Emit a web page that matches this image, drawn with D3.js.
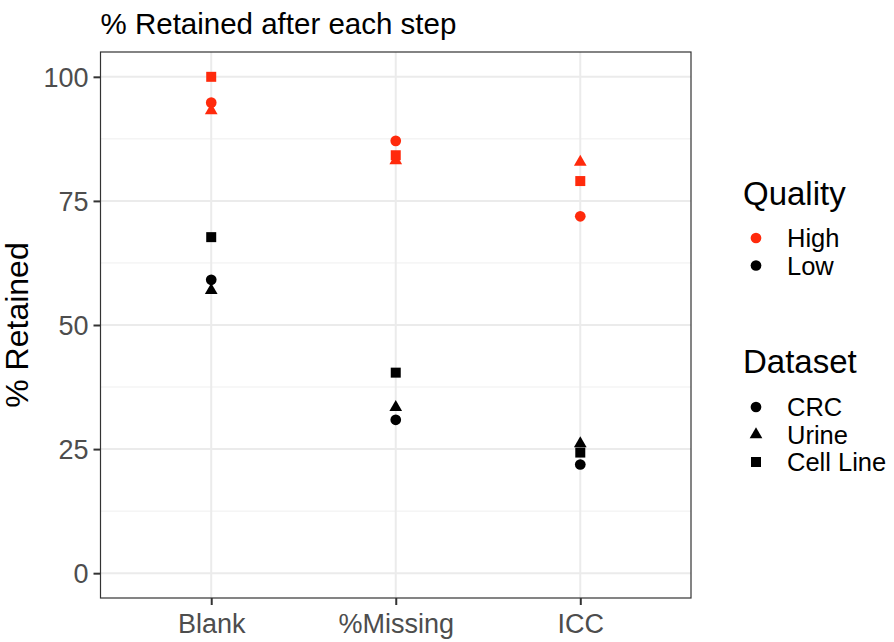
<!DOCTYPE html>
<html>
<head>
  <meta charset='utf-8'>
  <title>Retained</title>
  <style type='text/css'>
body{
  margin:0;
  background:#fff;
}
text{
  font-family: 'Liberation Sans', Arial, sans-serif;
}
  </style>
</head>
<body>
<div id='chart'></div>
<script src='https://d3js.org/d3.v7.min.js'></script>
<script type='text/javascript'>

// data
var steps = ['Blank', '%Missing', 'ICC'];
var datasets = ['CRC', 'Urine', 'Cell Line'];
var qualities = ['High', 'Low'];
var yTicks = [0, 25, 50, 75, 100];

// values per step, in dataset order CRC, Urine, Cell Line
var highCRC = [94.8, 87.1, 71.9];
var highUrine = [93.2, 83.1, 82.8];
var highCell = [100, 84.2, 79.0];
var lowCRC = [59.1, 30.9, 21.9];
var lowUrine = [57.0, 33.4, 26.1];
var lowCell = [67.7, 40.4, 24.3];

var rows = [];
[[highCRC,'High','CRC'],[highUrine,'High','Urine'],[highCell,'High','Cell Line'],
 [lowCRC,'Low','CRC'],[lowUrine,'Low','Urine'],[lowCell,'Low','Cell Line']].forEach(function(s){
  s[0].forEach(function(v, i){
    rows.push({step: steps[i], value: v, quality: s[1], dataset: s[2]});
  });
});

var W = 894, H = 642;
var pLeft = 100.5, pRight = 691, pTop = 52, pBottom = 598;

var svg = d3.select('#chart').append('svg')
  .attr('width', W).attr('height', H);

// scales
var x = d3.scalePoint().domain(steps).range([pLeft, pRight]).padding(0.6);
var y = d3.scaleLinear().domain([-5, 105]).range([pBottom, pTop]);
var colour = d3.scaleOrdinal().domain(qualities).range(['#ff2a0c', '#000000']);
var shape = d3.scaleOrdinal().domain(datasets)
  .range([d3.symbolCircle, d3.symbolTriangle, d3.symbolSquare]);
var symSize = {'CRC': 90, 'Urine': 70, 'Cell Line': 100};

// grid: minor then major
var minor = [12.5, 37.5, 62.5, 87.5];
svg.append('g').selectAll('line').data(minor).enter().append('line')
  .attr('x1', pLeft).attr('x2', pRight)
  .attr('y1', function(d){ return y(d); }).attr('y2', function(d){ return y(d); })
  .attr('stroke', '#ebebeb').attr('stroke-width', 0.8);
svg.append('g').selectAll('line').data(yTicks).enter().append('line')
  .attr('x1', pLeft).attr('x2', pRight)
  .attr('y1', function(d){ return y(d); }).attr('y2', function(d){ return y(d); })
  .attr('stroke', '#ebebeb').attr('stroke-width', 2);
svg.append('g').selectAll('line').data(steps).enter().append('line')
  .attr('y1', pTop).attr('y2', pBottom)
  .attr('x1', function(d){ return x(d); }).attr('x2', function(d){ return x(d); })
  .attr('stroke', '#ebebeb').attr('stroke-width', 2);

// points
svg.append('g').selectAll('path').data(rows).enter().append('path')
  .attr('transform', function(d){ return 'translate(' + x(d.step) + ',' + y(d.value) + ')'; })
  .attr('d', function(d){ return d3.symbol().type(shape(d.dataset)).size(symSize[d.dataset])(); })
  .attr('fill', function(d){ return colour(d.quality); });

// panel border
svg.append('rect')
  .attr('x', pLeft).attr('y', pTop)
  .attr('width', pRight - pLeft).attr('height', pBottom - pTop)
  .attr('fill', 'none').attr('stroke', '#333333').attr('stroke-width', 1.2);

// axes
var yAxis = svg.append('g')
  .attr('transform', 'translate(' + pLeft + ',0)')
  .call(d3.axisLeft(y).tickValues(yTicks).tickSize(7).tickPadding(5));
var xAxis = svg.append('g')
  .attr('transform', 'translate(0,' + pBottom + ')')
  .call(d3.axisBottom(x).tickSize(7).tickPadding(7));
[yAxis, xAxis].forEach(function(a){
  a.select('.domain').remove();
  a.selectAll('line').attr('stroke', '#333333').attr('stroke-width', 2);
  a.selectAll('text').attr('fill', '#4d4d4d').style('font-size', '27px')
    .style('font-family', "'Liberation Sans', Arial, sans-serif");
});
yAxis.selectAll('text').attr('dy', '0.35em');
xAxis.selectAll('text').attr('dy', '0.78em');

// titles
svg.append('text')
  .attr('x', pLeft).attr('y', 34)
  .style('font-size', '29.5px')
  .text('% Retained after each step');

svg.append('text')
  .attr('transform', 'translate(28,' + ((pTop + pBottom) / 2) + ') rotate(-90)')
  .style('text-anchor', 'middle')
  .style('font-size', '32px')
  .text('% Retained');

// legends
var lx = 743;
var qLeg = svg.append('g');
qLeg.append('text').attr('x', lx).attr('y', 205).style('font-size', '33px').text('Quality');
qualities.forEach(function(q, i){
  var cy = 238 + i * 27.5;
  qLeg.append('path')
    .attr('transform', 'translate(' + 756 + ',' + cy + ')')
    .attr('d', d3.symbol().type(d3.symbolCircle).size(90)())
    .attr('fill', colour(q));
  qLeg.append('text').attr('x', 787).attr('y', cy + 9).style('font-size', '25.5px').text(q);
});

var dLeg = svg.append('g');
dLeg.append('text').attr('x', lx).attr('y', 373).style('font-size', '33px').text('Dataset');
datasets.forEach(function(d, i){
  var cy = 407 + i * 27.5;
  dLeg.append('path')
    .attr('transform', 'translate(' + 756 + ',' + cy + ')')
    .attr('d', d3.symbol().type(shape(d)).size(symSize[d])())
    .attr('fill', '#000');
  dLeg.append('text').attr('x', 787).attr('y', cy + 9).style('font-size', '25.5px').text(d);
});

</script>
</body>
</html>
